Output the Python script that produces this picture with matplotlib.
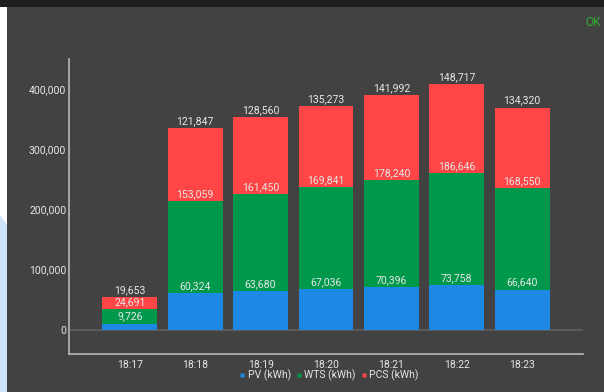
import matplotlib
matplotlib.use("Agg")
import matplotlib.pyplot as plt
from matplotlib.patches import Rectangle, Polygon
from matplotlib.lines import Line2D
from matplotlib.ticker import FuncFormatter, FixedLocator
import numpy as np

plt.rcParams['font.family'] = ['Roboto', 'DejaVu Sans']

# Data
times = ["18:17", "18:18", "18:19", "18:20", "18:21", "18:22", "18:23"]
pv = [9726, 60324, 63680, 67036, 70396, 73758, 66640]
wts = [24691, 153059, 161450, 169841, 178240, 186646, 168550]
pcs = [19653, 121847, 128560, 135273, 141992, 148717, 134320]
series_names = ["PV (kWh)", "WTS (kWh)", "PCS (kWh)"]
y_ticks = [0, 100000, 200000, 300000, 400000]

BG = "#424242"
COLORS = ["#1e88e5", "#00994c", "#ff4545"]
TEXT = "#e6e6e6"

W, H = 604, 392
fig = plt.figure(figsize=(W / 100, H / 100), dpi=100, facecolor=BG)

# Page surroundings: white margin on the left, blue decoration, dark top strip
fig.patches.append(Rectangle((0, 0), 7 / W, 1, transform=fig.transFigure,
                             facecolor="white", edgecolor="none", zorder=-5))
fig.patches.append(Polygon([(0, 0), (7 / W, 0), (7 / W, 1 - 225 / H), (0, 1 - 215 / H)],
                           closed=True, transform=fig.transFigure,
                           facecolor="#cfe4fd", edgecolor="none", zorder=-4))
fig.patches.append(Rectangle((0, 1 - 7 / H), 1, 7 / H, transform=fig.transFigure,
                             facecolor="#1f1f1f", edgecolor="none", zorder=-3))

fig.text(585 / W, 1 - 22 / H, "OK", color="#2fb12f", fontsize=8.5,
         ha="left", va="center")

ax = fig.add_axes([69 / W, 1 - 354 / H, 514 / W, 295 / H])
ax.set_facecolor(BG)

x = np.arange(len(times))
width = 0.84
bottoms = np.zeros(len(times))
for vals, color in zip([pv, wts, pcs], COLORS):
    vals = np.array(vals, dtype=float)
    ax.bar(x, vals, width, bottom=bottoms, color=color, edgecolor="none", zorder=3)
    tops = bottoms + vals
    for xi, top, v in zip(x, tops, vals):
        ax.annotate(f"{int(v):,}", (xi, top), xytext=(0, 1.5), textcoords="offset points",
                    ha="center", va="bottom", color=TEXT, fontsize=7.6, zorder=4)
    bottoms = tops

ax.axhline(0, color="#5e5e5e", lw=1.3, zorder=2)

ax.set_xlim(-0.93, 6.93)
ax.set_ylim(-40800, 450800)
ax.set_xticks(x)
ax.set_xticklabels(times)
ax.yaxis.set_major_locator(FixedLocator(y_ticks))
ax.yaxis.set_major_formatter(FuncFormatter(lambda v, p: f"{int(v):,}"))
ax.tick_params(axis="both", length=0, colors=TEXT, labelsize=7.5)
ax.tick_params(axis="y", pad=2)
ax.tick_params(axis="x", pad=4)

for s in ["top", "right"]:
    ax.spines[s].set_visible(False)
for s in ["left", "bottom"]:
    ax.spines[s].set_color("#b8b8b8")
    ax.spines[s].set_linewidth(1.2)

handles = [Line2D([0], [0], marker="s", linestyle="none", markersize=3.5,
                  markerfacecolor=c, markeredgecolor="none") for c in COLORS]
fig.legend(handles, series_names, loc="center", bbox_to_anchor=(329 / W, 1 - 375 / H),
           ncol=3, frameon=False, fontsize=7.5, labelcolor=TEXT,
           handlelength=0.6, handletextpad=0.2, columnspacing=0.5, borderpad=0)

fig.savefig("out.png", dpi=100, facecolor=fig.get_facecolor())
